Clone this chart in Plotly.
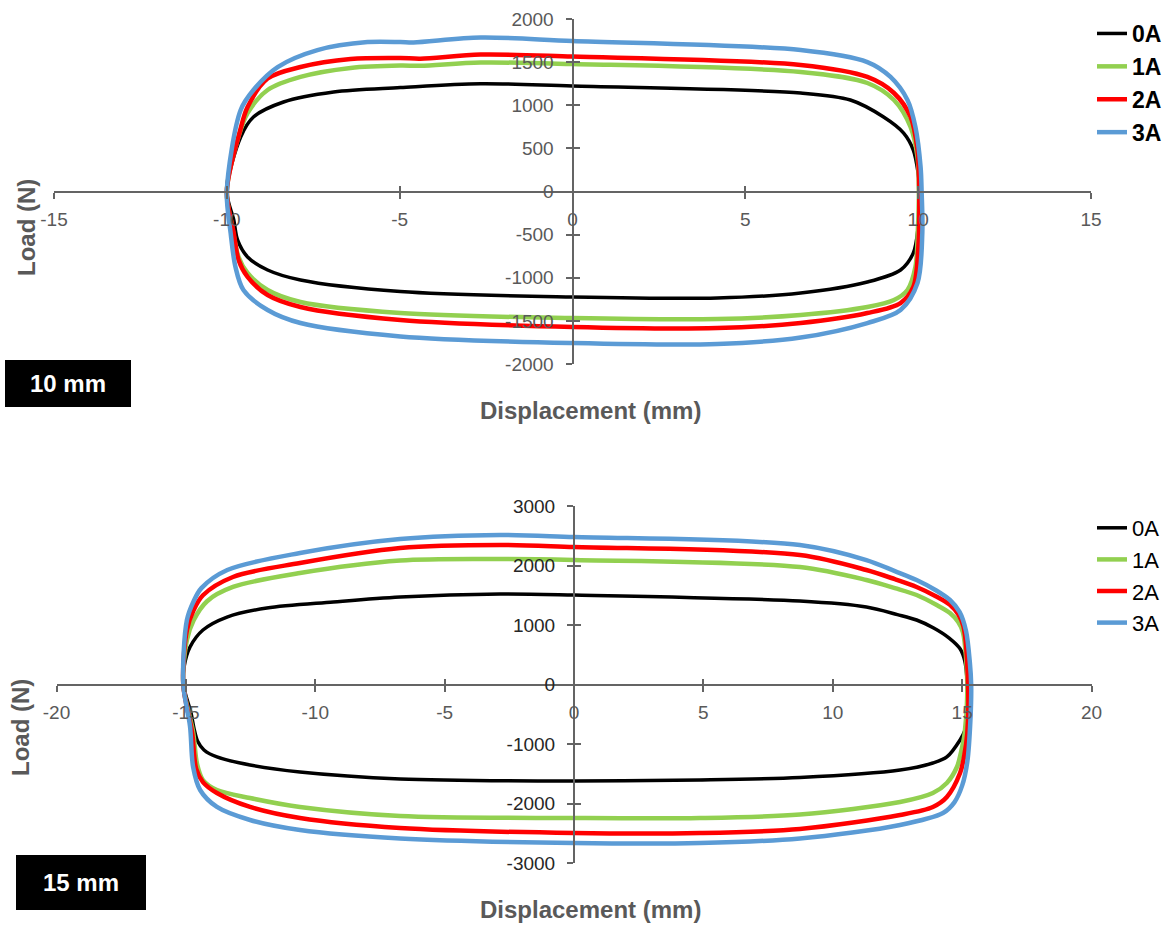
import plotly.graph_objects as go

# ---------------- 10 mm amplitude: load-displacement loops ----------------
# each loop: upper branch left->right, then lower branch right->left
disp10_0A = [-10.0, -9.6, -9.23, -8.36, -6.91, -4.98, -2.66, 0.0, 6.6, 8.04, 9.0, 9.58, 9.86, 10.0, 10.05,
             10.0, 9.86, 9.49, 8.53, 6.6, 4.19, 0.0, -4.98, -7.87, -8.82, -9.4, -9.69, -9.8, -10.0]
load10_0A = [0, 632, 864, 1038, 1154, 1205, 1250, 1223, 1142, 1061, 864, 678, 481, 212, 0,
             -412, -713, -910, -1049, -1177, -1235, -1223, -1160, -1026, -910, -759, -562, -330, 0]

disp10_1A = [-10.0, -9.65, -9.4, -8.82, -7.87, -6.42, -4.98, -4.4, -2.66, 0.0, 6.6, 8.53, 9.3, 9.78, 9.98, 10.02,
             9.99, 9.92, 9.69, 9.3, 8.53, 6.6, 4.19, 0.0, -4.98, -7.87, -8.82, -9.4, -9.66, -9.85, -10.0]
load10_1A = [0, 650, 909, 1177, 1328, 1432, 1460, 1458, 1495, 1478, 1386, 1258, 1061, 748, 400, 0,
             -450, -875, -1142, -1258, -1339, -1432, -1478, -1467, -1409, -1281, -1142, -945, -759, -400, 0]

disp10_2A = [-10.0, -9.62, -9.4, -8.82, -7.87, -6.42, -4.98, -4.4, -2.66, 0.0, 6.6, 8.53, 9.3, 9.78, 9.98, 10.03,
             10.0, 9.86, 9.49, 8.53, 6.6, 4.19, 0.0, -4.98, -7.87, -8.82, -9.4, -9.66, -9.8, -10.0]
load10_2A = [0, 700, 980, 1310, 1443, 1536, 1548, 1540, 1588, 1565, 1467, 1328, 1142, 864, 481, 0,
             -678, -1107, -1293, -1409, -1525, -1583, -1571, -1490, -1339, -1200, -991, -794, -481, 0]

disp10_3A = [-10.0, -9.6, -9.23, -8.53, -7.38, -5.93, -4.98, -4.6, -2.66, 0.0, 6.6, 8.53, 9.2, 9.69, 9.92, 10.07, 10.1,
             10.12, 9.98, 9.49, 8.53, 6.6, 4.19, 0.0, -4.98, -7.87, -8.82, -9.52, -9.75, -9.89, -10.0]
load10_3A = [0, 945, 1177, 1443, 1640, 1733, 1733, 1728, 1785, 1745, 1640, 1501, 1328, 1061, 748, 284, 0,
             -481, -1061, -1374, -1525, -1693, -1768, -1757, -1680, -1525, -1374, -1142, -875, -481, 0]

# ---------------- 15 mm amplitude ----------------
disp15_0A = [-15.1, -15.07, -14.84, -14.34, -13.41, -11.87, -9.3, -6.72, -2.86, 0.0, 8.73, 11.3, 12.5, 13.24, 13.9, 14.5, 14.92, 15.1, 15.2,
             15.2, 15.1, 14.92, 14.41, 13.87, 12.6, 8.73, 4.87, 0.0, -6.72, -10.59, -12.52, -13.8, -14.3, -14.55, -14.68, -14.8, -15.1]
load15_0A = [0, 294, 630, 916, 1134, 1286, 1387, 1471, 1521, 1504, 1403, 1303, 1175, 1084, 950, 780, 600, 400, 0,
             -546, -780, -933, -1218, -1319, -1437, -1563, -1605, -1622, -1588, -1471, -1353, -1218, -1100, -950, -750, -480, 0]

disp15_1A = [-15.1, -14.96, -14.7, -14.18, -13.18, -10.59, -6.72, -2.86, 0.0, 8.73, 11.3, 12.4, 13.24, 14.0, 14.53, 14.85, 15.03, 15.2,
             15.1, 14.95, 14.8, 14.41, 13.87, 12.6, 8.73, 4.87, 0.0, -6.72, -10.59, -12.52, -13.8, -14.34, -14.57, -14.72, -15.1]
load15_1A = [0, 748, 1080, 1400, 1639, 1874, 2084, 2109, 2092, 1975, 1756, 1620, 1504, 1340, 1202, 1050, 880, 0,
             -815, -1150, -1387, -1655, -1824, -1975, -2185, -2244, -2244, -2210, -2058, -1908, -1773, -1605, -1330, -800, 0]

disp15_2A = [-15.1, -14.96, -14.7, -14.34, -13.18, -10.59, -6.72, -2.86, 0.0, 8.73, 11.3, 12.4, 13.24, 14.0, 14.53, 14.85, 15.05, 15.23,
             15.2, 15.08, 14.92, 14.41, 13.87, 12.6, 8.73, 4.87, 0.0, -6.72, -10.59, -12.52, -13.8, -14.34, -14.6, -14.76, -15.1]
load15_2A = [0, 916, 1250, 1500, 1807, 2042, 2294, 2345, 2311, 2176, 1924, 1770, 1639, 1480, 1340, 1180, 980, 0,
             -815, -1200, -1488, -1891, -2058, -2193, -2428, -2496, -2496, -2412, -2244, -2058, -1824, -1640, -1420, -800, 0]

disp15_3A = [-15.1, -14.96, -14.7, -14.4, -13.4, -10.59, -6.72, -2.86, 0.0, 8.73, 11.3, 12.4, 13.24, 14.0, 14.53, 14.9, 15.15, 15.3, 15.35,
             15.32, 15.2, 15.0, 14.7, 14.26, 12.6, 8.73, 4.87, 0.0, -6.72, -10.59, -12.52, -13.8, -14.45, -14.72, -14.84, -15.1]
load15_3A = [0, 1084, 1400, 1620, 1924, 2210, 2445, 2513, 2479, 2345, 2092, 1905, 1756, 1580, 1420, 1220, 900, 361, 0,
             -597, -1300, -1700, -1980, -2160, -2361, -2588, -2664, -2664, -2588, -2445, -2277, -2058, -1773, -1387, -700, 0]

current_labels = ["0A", "1A", "2A", "3A"]
line_colors = ["#000000", "#92D050", "#FF0000", "#5B9BD5"]
line_widths = [3.5, 4.5, 4.5, 4.5]

# tick values and their printed labels (plain hyphen minus)
ticks10_x = [-15, -10, -5, 0, 5, 10, 15]
ticks10_y = [-2000, -1500, -1000, -500, 0, 500, 1000, 1500, 2000]
ticks15_x = [-20, -15, -10, -5, 0, 5, 10, 15, 20]
ticks15_y = [-3000, -2000, -1000, 0, 1000, 2000, 3000]

loops10 = [(disp10_0A, load10_0A), (disp10_1A, load10_1A), (disp10_2A, load10_2A), (disp10_3A, load10_3A)]
loops15 = [(disp15_0A, load15_0A), (disp15_1A, load15_1A), (disp15_2A, load15_2A), (disp15_3A, load15_3A)]

W, H = 1172, 929
FONT = "Liberation Sans, Arial, sans-serif"
AXIS_GREY = "#646464"
TEXT_GREY = "#595959"

# plot-area geometry (paper fractions)
top_xdom = [54 / W, 1091 / W]
top_ydom = [1 - 364 / H, 1 - 19 / H]
bot_xdom = [56.5 / W, 1091.5 / W]
bot_ydom = [1 - 863 / H, 1 - 506 / H]


def mid(d):
    return (d[0] + d[1]) / 2


fig = go.Figure()

for (xs, ys), name, col, lw in zip(loops10, current_labels, line_colors, line_widths):
    fig.add_trace(go.Scatter(x=xs, y=ys, mode="lines", name=f"<b>{name}</b>",
                             line=dict(color=col, width=lw, shape="spline", smoothing=0.9),
                             xaxis="x", yaxis="y", legend="legend"))

for (xs, ys), name, col, lw in zip(loops15, current_labels, line_colors, line_widths):
    fig.add_trace(go.Scatter(x=xs, y=ys, mode="lines", name=name,
                             line=dict(color=col, width=lw, shape="spline", smoothing=0.9),
                             xaxis="x2", yaxis="y2", legend="legend2"))

# empty carriers so the inner-tick overlay axes are laid out
fig.add_trace(go.Scatter(x=[], y=[], xaxis="x3", yaxis="y3", showlegend=False, hoverinfo="skip"))
fig.add_trace(go.Scatter(x=[], y=[], xaxis="x4", yaxis="y4", showlegend=False, hoverinfo="skip"))


def fmt(v):
    return str(v) if v >= 0 else "-" + str(-v)


def main_axis(domain, rng, tv, pos, tickcolor, standoff):
    return dict(domain=domain, range=rng, tickvals=tv, ticktext=[fmt(v) for v in tv],
                anchor="free", position=pos,
                showline=True, linecolor=AXIS_GREY, linewidth=2,
                ticks="outside", ticklen=6, tickwidth=2, tickcolor=AXIS_GREY,
                showgrid=False, zeroline=False,
                tickfont=dict(family=FONT, size=19, color=tickcolor),
                ticklabelstandoff=standoff, fixedrange=True)


def inner_axis(domain, rng, tv, pos, over):
    return dict(domain=domain, range=rng, tickvals=tv, anchor="free", position=pos,
                overlaying=over, showline=False, ticks="inside", ticklen=6, tickwidth=2,
                tickcolor=AXIS_GREY, showticklabels=False, showgrid=False, zeroline=False,
                fixedrange=True)


layout = dict(
    width=W, height=H, margin=dict(l=0, r=0, t=0, b=0, autoexpand=False),
    paper_bgcolor="white", plot_bgcolor="rgba(0,0,0,0)",
    xaxis=main_axis(top_xdom, [-15, 15], ticks10_x, mid(top_ydom), TEXT_GREY, 5),
    yaxis=main_axis(top_ydom, [-2000, 2000], ticks10_y, mid(top_xdom), TEXT_GREY, 8),
    xaxis2=main_axis(bot_xdom, [-20, 20], ticks15_x, mid(bot_ydom), TEXT_GREY, 5),
    yaxis2=main_axis(bot_ydom, [-3000, 3000], ticks15_y, mid(bot_xdom), "#262626", 8),
    xaxis3=inner_axis(top_xdom, [-15, 15], ticks10_x, mid(top_ydom), "x"),
    yaxis3=inner_axis(top_ydom, [-2000, 2000], ticks10_y, mid(top_xdom), "y"),
    xaxis4=inner_axis(bot_xdom, [-20, 20], ticks15_x, mid(bot_ydom), "x2"),
    yaxis4=inner_axis(bot_ydom, [-3000, 3000], ticks15_y, mid(bot_xdom), "y2"),
    legend=dict(x=1092 / W, y=1 - 12 / H, xanchor="left", yanchor="top",
                font=dict(family=FONT, size=23, color="#000000"),
                bgcolor="rgba(0,0,0,0)", tracegroupgap=0),
    legend2=dict(x=1092 / W, y=1 - 507 / H, xanchor="left", yanchor="top",
                 font=dict(family=FONT, size=22, color="#000000"),
                 bgcolor="rgba(0,0,0,0)", tracegroupgap=0),
    showlegend=True,
)
fig.update_layout(**layout)

title_font = dict(family=FONT, size=24, color=TEXT_GREY)
annotations = [
    dict(text="<b>Displacement (mm)</b>", x=590 / W, y=1 - 410 / H, xref="paper", yref="paper",
         showarrow=False, font=title_font, xanchor="center", yanchor="middle"),
    dict(text="<b>Load (N)</b>", x=26 / W, y=1 - 228 / H, xref="paper", yref="paper",
         showarrow=False, font=title_font, textangle=-90, xanchor="center", yanchor="middle"),
    dict(text="<b>Displacement (mm)</b>", x=590 / W, y=1 - 909 / H, xref="paper", yref="paper",
         showarrow=False, font=title_font, xanchor="center", yanchor="middle"),
    dict(text="<b>Load (N)</b>", x=20 / W, y=1 - 728 / H, xref="paper", yref="paper",
         showarrow=False, font=title_font, textangle=-90, xanchor="center", yanchor="middle"),
    dict(text="<b>10 mm</b>", x=5 / W, y=1 - 360 / H, xref="paper", yref="paper",
         showarrow=False, xanchor="left", yanchor="top", width=122, height=43,
         bgcolor="#000000", bordercolor="#000000", borderwidth=1, borderpad=1,
         font=dict(family=FONT, size=24, color="#FFFFFF")),
    dict(text="<b>15 mm</b>", x=16 / W, y=1 - 855 / H, xref="paper", yref="paper",
         showarrow=False, xanchor="left", yanchor="top", width=126, height=51,
         bgcolor="#000000", bordercolor="#000000", borderwidth=1, borderpad=1,
         font=dict(family=FONT, size=24, color="#FFFFFF")),
]
fig.update_layout(annotations=annotations)

fig.write_html("out.html")
